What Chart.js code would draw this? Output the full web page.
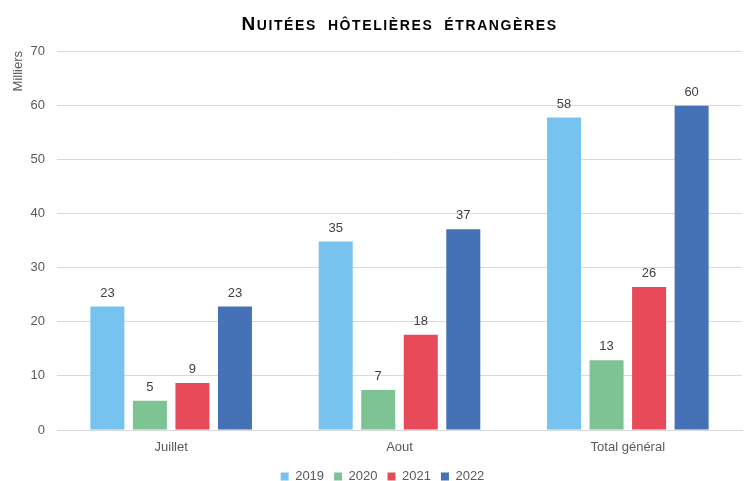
<!DOCTYPE html>
<html>
<head>
<meta charset="utf-8">
<script src="https://cdn.jsdelivr.net/npm/chart.js@4/dist/chart.umd.min.js"></script>
<style>
  html, body { margin: 0; padding: 0; background: #fff; }
  #wrap { width: 753px; height: 481px; }
</style>
</head>
<body>
<div id="wrap"><canvas id="nuitees"></canvas></div>
<script>
const categories = ["Juillet", "Aout", "Total général"];
const years = ["2019", "2020", "2021", "2022"];
const v2019 = [22.8, 34.8, 57.7];
const v2020 = [5.4, 7.4, 12.9];
const v2021 = [8.7, 17.6, 26.4];
const v2022 = [22.8, 37.1, 59.9];
const colors = ["#76C3EF", "#7DC394", "#E84A5A", "#4571B6"];

const font = "'Liberation Sans', Arial, sans-serif";

// titre en petites capitales, centré sur la zone du graphique
const titlePlugin = {
  id: "titreSC",
  afterLayout(chart) {
    // légende un peu décalée vers la droite comme dans l'original
    chart.legend.left += 12;
  },
  afterDraw(chart) {
    const ctx = chart.ctx;
    const area = chart.chartArea;
    const first = "N";
    const rest = "UITÉES  HÔTELIÈRES  ÉTRANGÈRES";
    ctx.save();
    ctx.fillStyle = "#000";
    ctx.textBaseline = "alphabetic";
    ctx.letterSpacing = "1.6px";
    ctx.font = "bold 19px " + font;
    const w1 = ctx.measureText(first).width;
    ctx.font = "bold 14px " + font;
    const w2 = ctx.measureText(rest).width;
    let x = (area.left + area.right) / 2 - (w1 + w2) / 2;
    ctx.textAlign = "left";
    ctx.font = "bold 19px " + font;
    ctx.fillText(first, x, 30);
    ctx.font = "bold 14px " + font;
    ctx.fillText(rest, x + w1, 30);
    ctx.restore();
  }
};

// étiquettes de valeurs au-dessus des barres
const labelPlugin = {
  id: "valeurs",
  afterDatasetsDraw(chart) {
    const ctx = chart.ctx;
    ctx.save();
    ctx.font = "13px " + font;
    ctx.fillStyle = "#404040";
    ctx.textAlign = "center";
    ctx.textBaseline = "bottom";
    chart.data.datasets.forEach((ds, i) => {
      chart.getDatasetMeta(i).data.forEach((bar, j) => {
        ctx.fillText(Math.round(ds.data[j]), bar.x, bar.y - 7);
      });
    });
    ctx.restore();
  }
};

const series = [v2019, v2020, v2021, v2022];

new Chart(document.getElementById("nuitees"), {
  type: "bar",
  data: {
    labels: categories,
    datasets: years.map((y, i) => ({
      label: y,
      data: series[i],
      backgroundColor: colors[i],
      categoryPercentage: 0.745,
      barPercentage: 0.8
    }))
  },
  options: {
    responsive: true,
    maintainAspectRatio: false,
    animation: false,
    layout: { padding: { top: 51, right: 11, left: 11, bottom: -12 } },
    plugins: {
      title: { display: false },
      tooltip: { enabled: false },
      legend: {
        position: "bottom",
        labels: {
          font: { family: font, size: 13 },
          color: "#595959",
          boxWidth: 8,
          boxHeight: 8,
          padding: 10
        }
      }
    },
    scales: {
      x: {
        grid: { display: false, drawTicks: false },
        border: { color: "#d9d9d9" },
        ticks: { font: { family: font, size: 13 }, color: "#595959", padding: 10 },
        afterFit(scale) { scale.height = 30; }
      },
      y: {
        min: 0,
        max: 70,
        ticks: { stepSize: 10, font: { family: font, size: 13 }, color: "#595959", padding: 12 },
        grid: { color: "#d9d9d9", drawTicks: false },
        border: { display: false },
        title: {
          display: true,
          text: "Milliers",
          align: "end",
          font: { family: font, size: 13 },
          color: "#595959",
          padding: 0
        },
        afterFit(scale) { scale.width = 46; }
      }
    }
  },
  plugins: [titlePlugin, labelPlugin]
});
</script>
</body>
</html>
